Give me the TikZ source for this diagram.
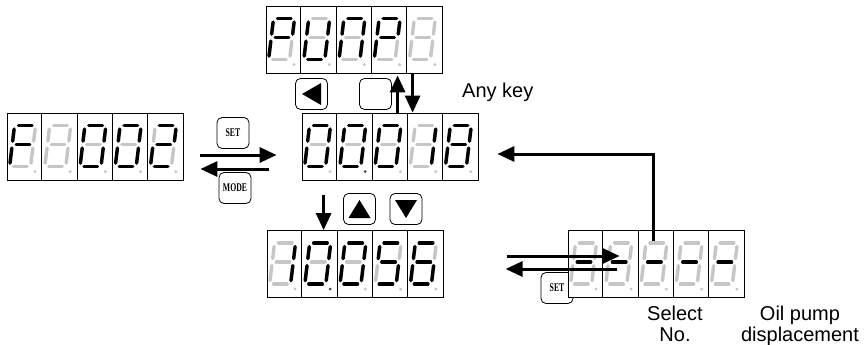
\documentclass[tikz,border=0pt]{standalone}
\usepackage{fontspec}
\setmainfont{Liberation Sans}
\newfontfamily\keyserif{Liberation Serif}
\usetikzlibrary{arrows.meta,calc,positioning}

\colorlet{segdim}{gray!45}
\colorlet{dotdark}{black!70}
\newcommand{\keyfont}{\keyserif\bfseries\fontsize{8.4}{8.4}\selectfont}
\newcommand{\keytext}[1]{\scalebox{0.92}[1.4]{#1}}
\newcommand{\notefont}{\fontsize{20}{21}\selectfont}

% one digit: display node, cell index, lit segments, dot colour
\newcommand{\sevseg}[4]{%
  \begin{scope}[shift={($(#1.north west)+(#2*35.2,54)$)},xslant=0.12]
    \coordinate (a1) at (7,-41);    \coordinate (a2) at (20.5,-41);
    \coordinate (b1) at (24,-37.5); \coordinate (b2) at (24,-25.5);
    \coordinate (c1) at (24,-18.5); \coordinate (c2) at (24,-3.5);
    \coordinate (d1) at (7,0);      \coordinate (d2) at (20.5,0);
    \coordinate (e1) at (3,-18.5);  \coordinate (e2) at (3,-3.5);
    \coordinate (f1) at (3,-37.5);  \coordinate (f2) at (3,-25.5);
    \coordinate (g1) at (7,-22);    \coordinate (g2) at (20.5,-22);
    \coordinate (dp) at (29,5);
  \end{scope}
  \foreach \s in {a,b,c,d,e,f,g} \draw[segoff] (\s1) -- (\s2);
  \foreach \s in {#3} {\if\s-\else\draw[segon] (\s1) -- (\s2);\fi}
  \fill[#4] (dp) circle (1.6);
}

\begin{document}
\begin{tikzpicture}[x=1pt, y=-1pt,
    display/.style={draw, line width=0.8pt, fill=white, minimum width=176pt, minimum height=67pt, inner sep=0pt},
    keybox/.style={draw, line width=0.8pt, fill=white, rounded corners=5pt, minimum width=32pt, minimum height=31pt, inner sep=0pt, font=\keyfont},
    segon/.style={line width=3.4pt, line cap=round, black},
    segoff/.style={line width=3.4pt, line cap=round, segdim},
    flow/.style={-{Triangle[length=17pt,width=15pt]}, line width=3pt},
    note/.style={font=\notefont, align=center, inner sep=0pt}
]
\useasboundingbox (0,0) rectangle (864,345);

% displays
\node[display] (fcode) at (95,146.5) {};
\node[display] (pump) at (354,39.5) {};
\node[display] (value) at (390,146.5) {};
\node[display] (setval) at (355,264) {};
\node[keybox] (setkeyb) at (557,288) {\keytext{SET}};
\node[display] (selno) at (656,264) {};

\foreach \d in {fcode,pump,value,setval,selno}
  \foreach \k in {1,...,4}
    \draw[line width=0.8pt] ($(\d.north west)+(\k*35.2,0)$) -- ($(\d.south west)+(\k*35.2,0)$);

% F-002
\sevseg{fcode}{0}{a,e,f,g}{segdim}
\sevseg{fcode}{1}{-}{segdim}
\sevseg{fcode}{2}{a,b,c,d,e,f}{segdim}
\sevseg{fcode}{3}{a,b,c,d,e,f}{segdim}
\sevseg{fcode}{4}{a,b,g,e,d}{segdim}
% PUMP
\sevseg{pump}{0}{a,b,f,e,g}{segdim}
\sevseg{pump}{1}{b,c,d,e,f}{segdim}
\sevseg{pump}{2}{a,b,c,e,f}{segdim}
\sevseg{pump}{3}{a,b,f,e,g}{segdim}
\sevseg{pump}{4}{-}{segdim}
% 00018
\sevseg{value}{0}{a,b,c,d,e,f}{segdim}
\sevseg{value}{1}{a,b,c,d,e,f}{dotdark}
\sevseg{value}{2}{a,b,c,d,e,f}{segdim}
\sevseg{value}{3}{b,c}{segdim}
\sevseg{value}{4}{a,b,c,d,e,f,g}{segdim}
% 10056
\sevseg{setval}{0}{b,c}{segdim}
\sevseg{setval}{1}{a,b,c,d,e,f}{dotdark}
\sevseg{setval}{2}{a,b,c,d,e,f}{segdim}
\sevseg{setval}{3}{a,f,g,c,d}{segdim}
\sevseg{setval}{4}{a,f,g,e,c,d}{segdim}
% -----
\foreach \k in {0,...,4} {\sevseg{selno}{\k}{g}{segdim}}

% keys
\node[keybox] (setkey) at (233,133) {\keytext{SET}};
\node[keybox] (modekey) at (235,188) {\keytext{MODE}};
\node[keybox] (leftkey) at (311.5,94) {};
\node[keybox] (anykey) at (375.5,94) {};
\node[keybox] (upkey) at (359.5,209) {};
\node[keybox] (downkey) at (406,209) {};
\fill ($(leftkey)+(-9.5,0)$) -- ($(leftkey)+(9.5,-11)$) -- ($(leftkey)+(9.5,11)$) -- cycle;
\fill ($(upkey)+(0,-9)$) -- ($(upkey)+(11,9)$) -- ($(upkey)+(-11,9)$) -- cycle;
\fill ($(downkey)+(0,9)$) -- ($(downkey)+(11,-9)$) -- ($(downkey)+(-11,-9)$) -- cycle;

% labels
\node[note, anchor=west] (anytext) at (462,92) {Any key};
\node[note, anchor=north] (selecttext) at (675,306) {Select\\No.};
\node[note, anchor=north] (pumptext) at (800,306) {Oil pump\\displacement};

% arrows
\draw[flow] ([xshift=17pt,yshift=-8.5pt]fcode.east) -- ([xshift=-25pt,yshift=-8.5pt]value.west);
\draw[flow] ([xshift=-33pt,yshift=-22.5pt]value.west) -- ([xshift=17pt,yshift=-22.5pt]fcode.east);
\draw[flow] ([xshift=96pt]value.north west) -- ([xshift=132pt,yshift=-2pt]pump.south west);
\draw[flow] ([xshift=147pt]pump.south west) -- ([xshift=111pt]value.north west);
\draw[flow] ([xshift=57pt,yshift=35pt]setval.north west) -- ([xshift=57pt]setval.north west);
\draw[flow] ([xshift=86pt,yshift=-11pt]selno.north west) |- ([xshift=19pt,yshift=-7.5pt]value.east);
\draw[flow] ([xshift=-61pt,yshift=8pt]selno.west) -- ([xshift=52pt,yshift=8pt]selno.west);
\draw[flow] ([xshift=49pt,yshift=-5pt]selno.west) -- ([xshift=-62pt,yshift=-5pt]selno.west);
\end{tikzpicture}
\end{document}
